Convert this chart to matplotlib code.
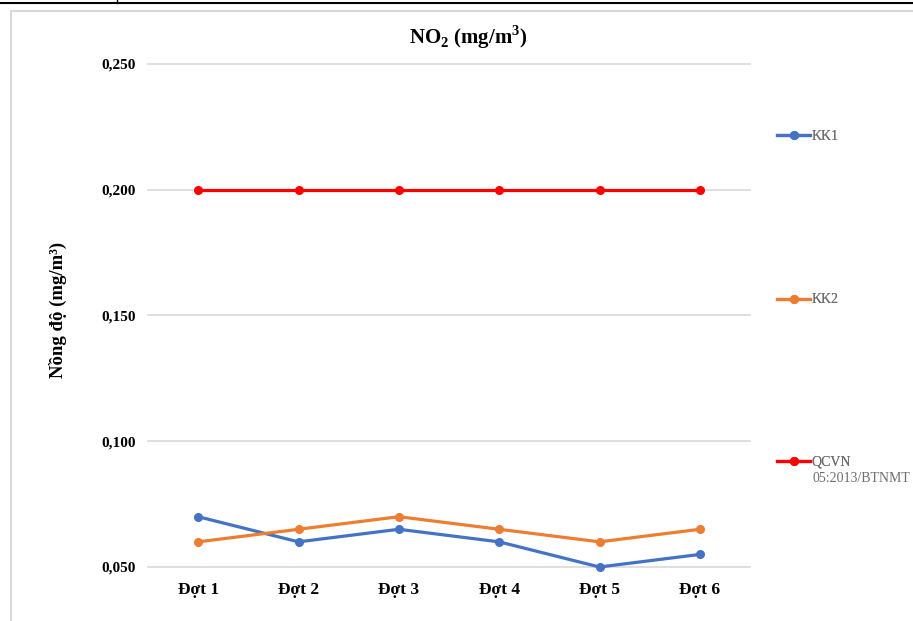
import matplotlib
matplotlib.use("Agg")
import matplotlib.pyplot as plt
from matplotlib.lines import Line2D
from matplotlib.patches import Rectangle
from matplotlib.ticker import FuncFormatter

plt.rcParams['font.family'] = ['Liberation Serif', 'DejaVu Serif']
plt.rcParams['mathtext.fontset'] = 'custom'
plt.rcParams['mathtext.rm'] = 'Liberation Serif'
plt.rcParams['mathtext.bf'] = 'Liberation Serif:bold'

categories = ["Đợt 1", "Đợt 2", "Đợt 3", "Đợt 4", "Đợt 5", "Đợt 6"]
kk1 = [0.070, 0.060, 0.065, 0.060, 0.050, 0.055]
kk2 = [0.060, 0.065, 0.070, 0.065, 0.060, 0.065]
qcvn = [0.200, 0.200, 0.200, 0.200, 0.200, 0.200]
yticks = [0.050, 0.100, 0.150, 0.200, 0.250]

W, H = 913, 621
fig = plt.figure(figsize=(W / 100, H / 100), dpi=100)

# outer decorations
fig.add_artist(Line2D([0, 1], [1 - 2.5 / H, 1 - 2.5 / H], color='black', lw=1.5, transform=fig.transFigure))
fig.add_artist(Line2D([117 / W, 117 / W], [1, 1 - 2.5 / H], color='black', lw=1.0, transform=fig.transFigure))
fig.add_artist(Rectangle((11 / W, -0.05), 1.1, 1 - 11 / H + 0.05, transform=fig.transFigure,
                         fill=False, edgecolor='#D9D9D9', lw=1.5))

ax = fig.add_axes([148 / W, 1 - 567 / H, (750 - 148) / W, (567 - 64) / H])
x = list(range(len(categories)))
lw = 2.3
ms = 5.5
l1, = ax.plot(x, kk1, color='#4472C4', lw=lw, marker='o', ms=ms, label='KK1', zorder=3, clip_on=False)
l2, = ax.plot(x, kk2, color='#ED7D31', lw=lw, marker='o', ms=ms, label='KK2', zorder=3, clip_on=False)
l3, = ax.plot(x, qcvn, color='#FF0000', lw=lw, marker='o', ms=ms, label='QCVN', zorder=3, clip_on=False)

ax.set_xlim(-0.5, len(categories) - 0.5)
ax.set_ylim(0.050, 0.250)
ax.set_yticks(yticks)
ax.yaxis.set_major_formatter(FuncFormatter(lambda v, p: f"{v:.3f}".replace('.', ',')))
ax.set_xticks(x)
ax.set_xticklabels(categories, fontsize=12.5, fontweight='bold')
for t in ax.get_yticklabels():
    t.set_fontsize(11)
    t.set_fontweight('bold')
ax.tick_params(axis='y', length=0, pad=9)
ax.tick_params(axis='x', length=0, pad=11)
ax.grid(axis='y', color='#D9D9D9', lw=1.2)
for gl in ax.get_ygridlines():
    gl.set_clip_on(False)
ax.set_axisbelow(True)
for s in ax.spines.values():
    s.set_visible(False)

fig.text(468 / W, 1 - 37 / H, r"NO$_\mathbf{2}$ (mg/m$^\mathbf{3}$)", ha='center', va='center',
         fontsize=15, fontweight='bold')
fig.text(58 / W, 1 - 310 / H, "Nồng độ (mg/m³)", rotation=90, ha='center', va='center',
         fontsize=13.5, fontweight='bold')

# legend entries
fs_leg = 10
for handle, label, ypix in [(l1, 'KK1', 136), (l2, 'KK2', 300), (l3, 'QCVN', 462)]:
    leg = fig.legend(handles=[handle], labels=[label], loc='center left',
                     bbox_to_anchor=(777 / W, 1 - ypix / H), frameon=False,
                     fontsize=fs_leg, handlelength=2.4, handletextpad=0.1, borderpad=0,
                     borderaxespad=0, labelcolor='#6E6E6E')
    fig.add_artist(leg)
fig.text(812 / W, 1 - 478 / H, "05:2013/BTNMT", ha='left', va='center', fontsize=fs_leg, color='#6E6E6E')

fig.savefig("out.png", dpi=100)
